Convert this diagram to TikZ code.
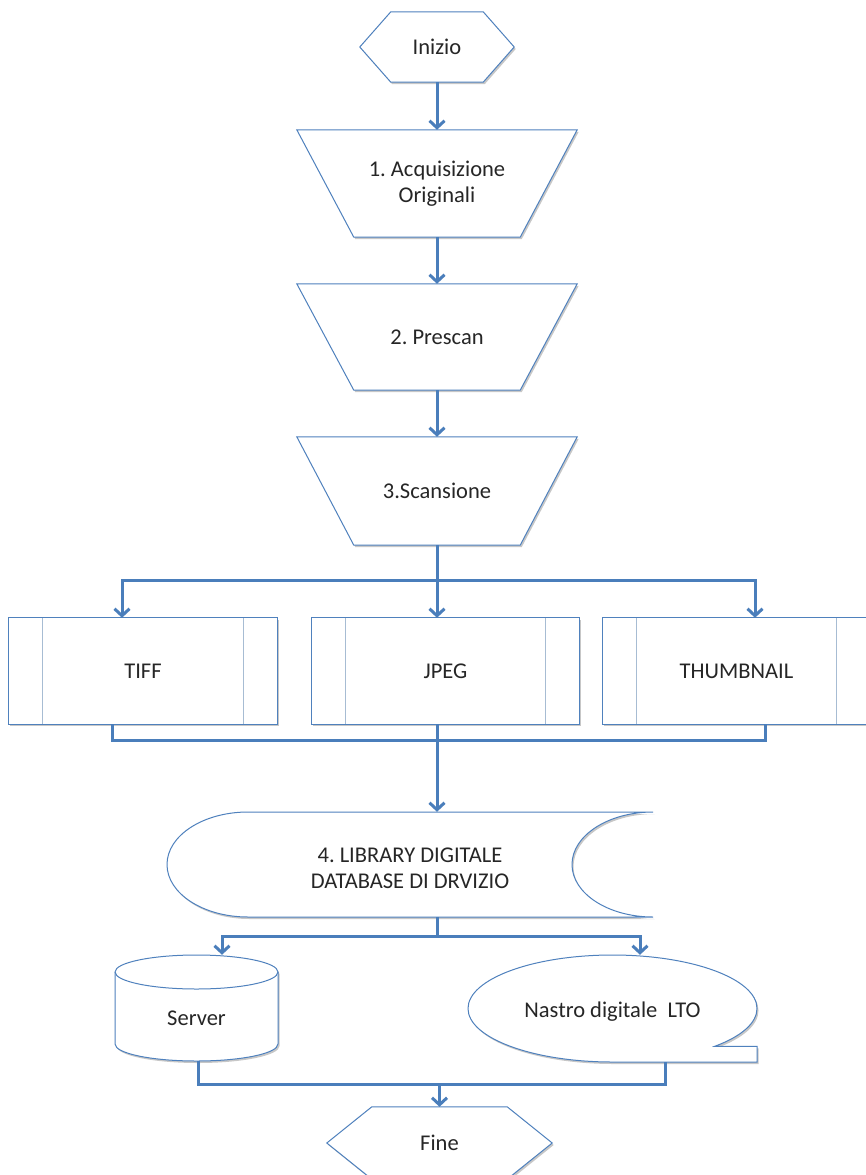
\documentclass[tikz,border=0pt]{standalone}
\usepackage{fontspec}
\setmainfont{Carlito}
\usetikzlibrary{arrows.meta,shadows}
\definecolor{lineblue}{HTML}{4A7EBB}
\definecolor{edgeblue}{HTML}{4F81BD}
\definecolor{innerblue}{HTML}{A7BCD3}
\definecolor{txt}{HTML}{262626}
\pgfdeclarelayer{bg}
\pgfdeclarelayer{background}
\pgfsetlayers{bg,background,main}
\frenchspacing
\begin{document}
\begin{tikzpicture}[x=1pt,y=-1pt,
  frame/.style={draw=none, inner sep=0pt, align=center, text=txt, font=\fontsize{22.5}{26}\selectfont},
  outline/.style={draw=edgeblue, line width=1pt, fill=white,
    drop shadow={shadow xshift=1.5pt, shadow yshift=-2pt, opacity=0.22, fill=black}},
  innerline/.style={draw=innerblue, line width=1pt},
  flowline/.style={draw=lineblue, line width=3pt},
  conn/.style={flowline, -{Straight Barb[length=7pt,width=15pt]}},
]
\useasboundingbox (0,0) rectangle (865,1175);
\begin{pgfonlayer}{bg}
  \fill[white] (0,0) rectangle (865,1175);
\end{pgfonlayer}

% nodes
\node[frame, minimum width=154pt, minimum height=70pt] (inizio) at (437,47) {Inizio};
\node[frame, minimum width=280pt, minimum height=107pt] (acq) at (437,183.5) {1. Acquisizione\\Originali};
\node[frame, minimum width=280pt, minimum height=106pt] (prescan) at (437,337) {2. Prescan};
\node[frame, minimum width=280pt, minimum height=108pt] (scan) at (437,491) {3.Scansione};
\node[frame, minimum width=268pt, minimum height=106pt] (tiff) at (143,671) {TIFF};
\node[frame, minimum width=267pt, minimum height=106pt] (jpeg) at (445.5,671) {JPEG};
\node[frame, minimum width=267pt, minimum height=106pt] (thumb) at (736.5,671) {THUMBNAIL};
\node[frame, minimum width=486pt, minimum height=105pt] (lib) at (410,864.5) {\raisebox{-6pt}[\height][\depth]{\begin{tabular}{@{}c@{}}4. LIBRARY DIGITALE\\DATABASE DI DRVIZIO\end{tabular}}};
\node[frame, minimum width=163pt, minimum height=106pt] (server) at (196.5,1008) {\raisebox{-10pt}[\height][\depth]{Server}};
\node[frame, minimum width=289pt, minimum height=107pt] (lto) at (612.5,1008.5) {\raisebox{-3pt}[\height][\depth]{Nastro digitale\ \ LTO}};
\node[frame, minimum width=225pt, minimum height=72pt] (fine) at (439.5,1143) {Fine};

% shapes
\begin{pgfonlayer}{background}
  \draw[outline] (inizio.west) -- ([xshift=31pt]inizio.north west) -- ([xshift=-31pt]inizio.north east)
    -- (inizio.east) -- ([xshift=-31pt]inizio.south east) -- ([xshift=31pt]inizio.south west) -- cycle;
  \draw[outline] (acq.north west) -- (acq.north east) -- ([xshift=-57pt]acq.south east) -- ([xshift=57pt]acq.south west) -- cycle;
  \draw[outline] (prescan.north west) -- (prescan.north east) -- ([xshift=-57pt]prescan.south east) -- ([xshift=57pt]prescan.south west) -- cycle;
  \draw[outline] (scan.north west) -- (scan.north east) -- ([xshift=-57pt]scan.south east) -- ([xshift=57pt]scan.south west) -- cycle;
  \foreach \b in {tiff,jpeg,thumb}{
    \draw[outline] (\b.north west) rectangle (\b.south east);
    \draw[innerline] ([xshift=34pt]\b.north west) -- ([xshift=34pt]\b.south west);
    \draw[innerline] ([xshift=-34pt]\b.north east) -- ([xshift=-34pt]\b.south east);
  }
  % stored data
  \draw[outline] (248,812) -- (653,812)
    .. controls (608.3,812) and (572,835.5) .. (572,864.5)
    .. controls (572,893.5) and (608.3,917) .. (653,917)
    -- (248,917)
    .. controls (203.3,917) and (167,893.5) .. (167,864.5)
    .. controls (167,835.5) and (203.3,812) .. (248,812) -- cycle;
  % cylinder
  \draw[outline] (115,972) -- (115,1044)
    .. controls (115,1053.4) and (151.5,1061) .. (196.5,1061)
    .. controls (241.5,1061) and (278,1053.4) .. (278,1044)
    -- (278,972)
    .. controls (278,962.6) and (241.5,955) .. (196.5,955)
    .. controls (151.5,955) and (115,962.6) .. (115,972) -- cycle;
  \draw[draw=edgeblue, line width=1pt] (115,972)
    .. controls (115,981.4) and (151.5,989) .. (196.5,989)
    .. controls (241.5,989) and (278,981.4) .. (278,972);
  % magnetic tape
  \draw[outline] (612.5,1062)
    .. controls (532.7,1062) and (468,1038) .. (468,1008.5)
    .. controls (468,979) and (532.7,955) .. (612.5,955)
    .. controls (692.3,955) and (757,979) .. (757,1008.5)
    .. controls (757,1022.7) and (741.8,1036.3) .. (714.7,1046.3)
    -- (757,1046.3) -- (757,1062) -- cycle;
  \draw[outline] (fine.west) -- ([xshift=45pt]fine.north west) -- ([xshift=-45pt]fine.north east)
    -- (fine.east) -- ([xshift=-45pt]fine.south east) -- ([xshift=45pt]fine.south west) -- cycle;
\end{pgfonlayer}

% connectors
\draw[conn] (inizio.south) -- (acq.north);
\draw[conn] (acq.south) -- (prescan.north);
\draw[conn] (prescan.south) -- (scan.north);
\coordinate (b1) at (437,580);
\draw[flowline] (scan.south) -- (b1);
\draw[conn] (b1) -| ([xshift=-21pt]tiff.north);
\draw[conn] (b1) -- ([xshift=-8.5pt]jpeg.north);
\draw[conn] (b1) -| ([xshift=18.5pt]thumb.north);
\coordinate (m1) at (437,740);
\draw[flowline] ([xshift=-31pt]tiff.south) |- (m1);
\draw[flowline] ([xshift=28.5pt]thumb.south) |- (m1);
\draw[flowline] ([xshift=-8.5pt]jpeg.south) -- (m1);
\draw[conn] (m1) -- ([xshift=27pt]lib.north);
\coordinate (s1) at (437,936);
\draw[flowline] ([xshift=27pt]lib.south) -- (s1);
\draw[conn] (s1) -| ([xshift=25.5pt]server.north);
\draw[conn] (s1) -| ([xshift=27.5pt]lto.north);
\coordinate (m2) at (439.5,1084);
\draw[flowline] ([xshift=1.5pt]server.south) |- (m2);
\draw[flowline] ([xshift=52.5pt]lto.south) |- (m2);
\draw[conn] (m2) -- (fine.north);
\end{tikzpicture}
\end{document}
